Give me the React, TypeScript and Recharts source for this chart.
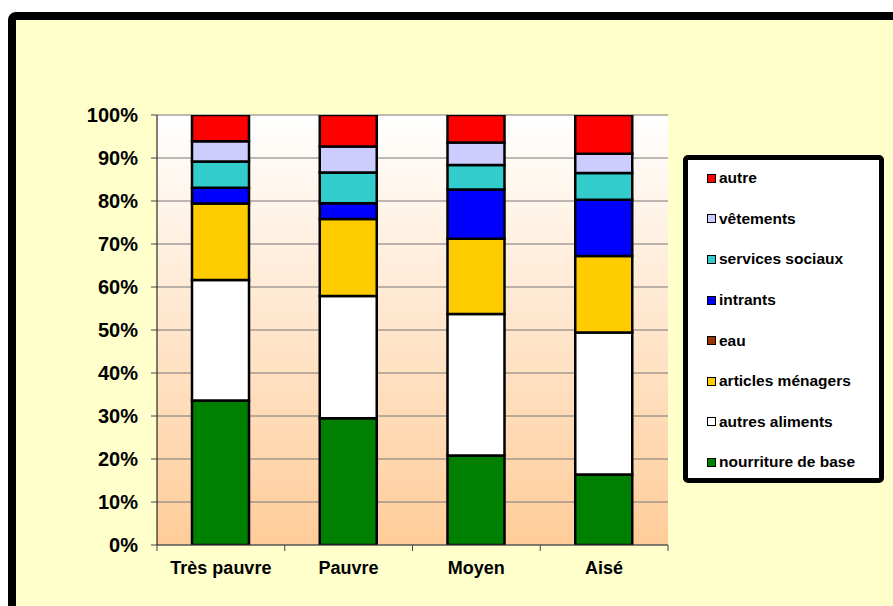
import { BarChart, Bar, XAxis, YAxis, CartesianGrid } from 'recharts'

// budget share by household category, in percent (each column sums to 100)
const CATEGORIES = ['Très pauvre', 'Pauvre', 'Moyen', 'Aisé']

const NOURRITURE_DE_BASE = [33.6, 29.5, 20.8, 16.4]
const AUTRES_ALIMENTS = [28.0, 28.4, 32.9, 33.0]
const ARTICLES_MENAGERS = [17.8, 17.9, 17.5, 17.8]
const EAU = [0, 0, 0, 0]
const INTRANTS = [3.7, 3.7, 11.5, 13.1]
const SERVICES_SOCIAUX = [6.1, 7.1, 5.7, 6.2]
const VETEMENTS = [4.7, 6.1, 5.2, 4.5]
const AUTRE = [6.1, 7.3, 6.4, 9.0]

const Y_TICKS = [0, 10, 20, 30, 40, 50, 60, 70, 80, 90, 100]

// stacked bottom to top
const SERIES = [
  { key: 'nourriture', name: 'nourriture de base', color: '#008000', values: NOURRITURE_DE_BASE },
  { key: 'autresAliments', name: 'autres aliments', color: '#FFFFFF', values: AUTRES_ALIMENTS },
  { key: 'articles', name: 'articles ménagers', color: '#FFCC00', values: ARTICLES_MENAGERS },
  { key: 'eau', name: 'eau', color: '#993300', values: EAU },
  { key: 'intrants', name: 'intrants', color: '#0000FF', values: INTRANTS },
  { key: 'services', name: 'services sociaux', color: '#33CCCC', values: SERVICES_SOCIAUX },
  { key: 'vetements', name: 'vêtements', color: '#CCCCFF', values: VETEMENTS },
  { key: 'autre', name: 'autre', color: '#FF0000', values: AUTRE },
]

const data = CATEGORIES.map((cat, i) => {
  const row: Record<string, string | number> = { cat }
  SERIES.forEach((s) => { row[s.key] = s.values[i] })
  return row
})

const FONT = 'Arial, "Liberation Sans", sans-serif'
const W = 885
const H = 598
const MARGIN = { top: 107, right: 225, bottom: 21, left: 89 }
const Y_WIDTH = 60
const X_HEIGHT = 40
const HALF_STEP = (W - MARGIN.left - MARGIN.right - Y_WIDTH) / CATEGORIES.length / 2
const TICK_MARGIN = 16

// category label plus Excel-style tick marks between the categories
function CategoryTick(props: any) {
  const { x, y, payload, index } = props
  const axisY = y - TICK_MARGIN
  return (
    <g>
      <line x1={x - HALF_STEP} y1={axisY} x2={x - HALF_STEP} y2={axisY + 6} stroke="#444" />
      {index === CATEGORIES.length - 1 && (
        <line x1={x + HALF_STEP} y1={axisY} x2={x + HALF_STEP} y2={axisY + 6} stroke="#444" />
      )}
      <text x={x} y={y} dy="0.71em" textAnchor="middle" fontFamily={FONT} fontWeight="bold" fontSize={18} fill="#000">
        {payload.value}
      </text>
    </g>
  )
}

function ChartLegend() {
  return (
    <div
      style={{
        position: 'absolute', left: 675, top: 147, width: 201, height: 328,
        boxSizing: 'border-box', border: '5px solid #000', borderRadius: 5,
        background: '#fff', fontFamily: FONT, fontWeight: 'bold', fontSize: 15.5,
      }}
    >
      <div style={{ marginTop: -2 }}>
        {[...SERIES].reverse().map((s) => (
          <div key={s.key} style={{ height: 40.6, display: 'flex', alignItems: 'center', paddingLeft: 19 }}>
            <span
              style={{
                display: 'inline-block', width: 9, height: 9, boxSizing: 'border-box',
                border: '1.5px solid #000', background: s.color, marginRight: 3,
              }}
            />
            <span>{s.name}</span>
          </div>
        ))}
      </div>
    </div>
  )
}

export default function App() {
  return (
    <div style={{ position: 'fixed', left: 0, top: 0, width: 893, height: 606, overflow: 'hidden', background: '#fff' }}>
      <div style={{ position: 'absolute', left: 8, top: 8, width: W, height: H }}>
        <div
          style={{
            position: 'absolute', left: 0, top: 4, width: 920, height: 640,
            boxSizing: 'border-box', border: '8px solid #000', borderRadius: 8, background: '#FFFFCC',
          }}
        />
        <div style={{ position: 'absolute', left: 0, top: 0 }}>
          <BarChart width={W} height={H} data={data} margin={MARGIN} barSize={57}>
            <defs>
              <linearGradient id="plotBg" x1="0" y1="0" x2="0" y2="1">
                <stop offset="0%" stopColor="#FFFFFF" />
                <stop offset="100%" stopColor="#FFCC99" />
              </linearGradient>
            </defs>
            <CartesianGrid vertical={false} fill="url(#plotBg)" stroke="#777" strokeWidth={1} />
            <XAxis
              dataKey="cat"
              height={X_HEIGHT}
              axisLine={{ stroke: '#444' }}
              tickLine={false}
              tickSize={0}
              tickMargin={TICK_MARGIN}
              tick={<CategoryTick />}
              interval={0}
            />
            <YAxis
              domain={[0, 100]}
              ticks={Y_TICKS}
              width={Y_WIDTH}
              axisLine={{ stroke: '#000' }}
              tickLine={{ stroke: '#444' }}
              tickSize={6}
              tickMargin={13}
              tickFormatter={(v: number) => `${v}%`}
              tick={{ fontFamily: FONT, fontWeight: 'bold', fontSize: 20, fill: '#000' }}
              allowDataOverflow
            />
            <YAxis
              yAxisId="frame"
              orientation="right"
              domain={[0, 100]}
              width={0}
              tick={false}
              tickLine={false}
              axisLine={{ stroke: '#777' }}
            />
            {SERIES.map((s) => (
              <Bar
                key={s.key}
                dataKey={s.key}
                name={s.name}
                stackId="a"
                fill={s.color}
                stroke="#000"
                strokeWidth={2.5}
                isAnimationActive={false}
              />
            ))}
          </BarChart>
        </div>
        <ChartLegend />
      </div>
    </div>
  )
}
